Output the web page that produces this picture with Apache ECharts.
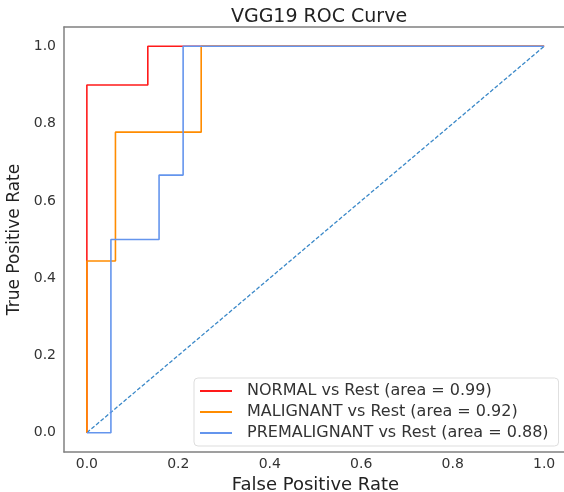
<!DOCTYPE html>
<html>
<head>
<meta charset="utf-8">
<script src="https://cdn.jsdelivr.net/npm/echarts@6/dist/echarts.min.js"></script>
<style>html,body{margin:0;padding:0;background:#fff;overflow:hidden}#c{width:564px;height:492px}</style>
</head>
<body>
<div id="c"></div>
<script>
const titleText = 'VGG19 ROC Curve';
const xName = 'False Positive Rate';
const yName = 'True Positive Rate';
const tickValues = [0, 0.2, 0.4, 0.6, 0.8, 1.0];

const normalFpr = [0, 0, 0.1333, 0.1333, 1];
const normalTpr = [0, 0.9, 0.9, 1, 1];
const malignantFpr = [0, 0, 0.0625, 0.0625, 0.25, 0.25, 1];
const malignantTpr = [0, 0.4444, 0.4444, 0.7778, 0.7778, 1, 1];
const premalFpr = [0, 0.0526, 0.0526, 0.1579, 0.1579, 0.2105, 0.2105, 1];
const premalTpr = [0, 0, 0.5, 0.5, 0.6667, 0.6667, 1, 1];
const diagX = [0, 1];
const diagY = [0, 1];

const names = ['NORMAL vs Rest (area = 0.99)', 'MALIGNANT vs Rest (area = 0.92)', 'PREMALIGNANT vs Rest (area = 0.88)'];
const colors = ['#ff1a1a', '#ff8c00', '#6495ed'];

const zip = (a, b) => a.map((v, i) => [v, b[i]]);
const font = 'DejaVu Sans';
const frame = {show: true, onZero: false, lineStyle: {color: '#808080', width: 1.5}};

const chart = echarts.init(document.getElementById('c'), null, {renderer: 'canvas'});
const mk = (name, data, color) => ({
  name, type: 'line', data, symbol: 'none', smooth: false,
  lineStyle: {color, width: 1.6}, itemStyle: {color}, animation: false
});
chart.setOption({
  animation: false,
  textStyle: {fontFamily: font},
  title: {text: titleText, left: 314, textAlign: 'center', top: 3,
    textStyle: {fontFamily: font, fontSize: 19, fontWeight: 'normal', color: '#222'}},
  grid: {left: 64, width: 503, top: 27, height: 425, show: false,
    containLabel: false, outerBoundsMode: 'none'},
  graphic: [{type: 'rect', shape: {x: 559, y: 28.5, width: 8, height: 422}, style: {fill: '#fff'}, z: 100, silent: true}],
  xAxis: [{type: 'value', min: -0.05, max: 1.05, name: xName, nameLocation: 'middle', nameGap: 20,
    nameTextStyle: {fontFamily: font, fontSize: 18, color: '#222'},
    axisLine: frame, axisTick: {show: false}, splitLine: {show: false},
    axisLabel: {customValues: tickValues, formatter: v => v.toFixed(1), margin: 5,
      fontFamily: font, fontSize: 14, color: '#333'}},
    {type: 'value', position: 'top', min: -0.05, max: 1.05, axisLine: frame,
     axisTick: {show: false}, splitLine: {show: false}, axisLabel: {show: false}}],
  yAxis: {type: 'value', min: -0.05, max: 1.05, name: yName, nameLocation: 'middle', nameGap: 36,
    nameTextStyle: {fontFamily: font, fontSize: 17, color: '#222'},
    axisLine: frame, axisTick: {show: false}, splitLine: {show: false},
    axisLabel: {customValues: tickValues, formatter: v => v.toFixed(1), margin: 8,
      fontFamily: font, fontSize: 14, color: '#333'}},
  legend: {data: names, orient: 'vertical', left: 194, top: 378, itemWidth: 32, itemHeight: 2,
    icon: 'rect', itemGap: 5, padding: [5, 10, 5, 6], borderColor: '#ddd', borderWidth: 1, borderRadius: 4,
    backgroundColor: 'rgba(255,255,255,0.8)',
    textStyle: {fontFamily: font, fontSize: 16, color: '#333', padding: [0, 0, 0, 10]}},
  series: [
    mk(names[0], zip(normalFpr, normalTpr), colors[0]),
    mk(names[1], zip(malignantFpr, malignantTpr), colors[1]),
    mk(names[2], zip(premalFpr, premalTpr), colors[2]),
    {name: 'diag', type: 'line', data: zip(diagX, diagY), symbol: 'none',
      lineStyle: {color: '#3a88c8', width: 1.3, type: [4, 2]}, z: 1}
  ]
});
</script>
</body>
</html>
